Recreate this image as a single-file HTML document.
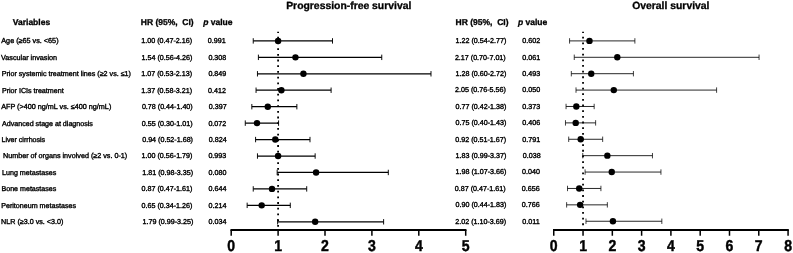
<!DOCTYPE html>
<html lang="en"><head><meta charset="utf-8"><title>Forest plot</title>
<style>
html,body{margin:0;padding:0;background:#fff;}
body{width:793px;height:253px;overflow:hidden;}
svg{display:block;font-family:"Liberation Sans",sans-serif;fill:#000;text-rendering:geometricPrecision;}
.r{font-size:7.15px;stroke:#000;stroke-width:0.36;}
.l{font-size:7.25px;stroke:#000;stroke-width:0.36;}
.h{font-size:8.5px;font-weight:bold;stroke:#000;stroke-width:0.3;}
.t{font-size:10.38px;font-weight:bold;stroke:#000;stroke-width:0.3;}
.a{font-size:15.8px;font-weight:bold;text-anchor:middle;stroke:#000;stroke-width:0.45;}
.ci{stroke:#000;fill:none;}
.cap{stroke:#000;fill:none;}
.ax{stroke:#000;stroke-width:1.9;fill:none;}
.tk{stroke:#000;stroke-width:1.5;fill:none;}
.dot{stroke:#000;stroke-width:1.8;stroke-dasharray:1.8 3.9;stroke-dashoffset:0.7;fill:none;}
</style></head><body>
<svg width="793" height="253" viewBox="0 0 793 253">
<rect x="0" y="0" width="793" height="253" fill="#fff"/>
<text class="t" x="286.2" y="8.55">Progression-free survival</text>
<text class="t" x="632.2" y="8.55">Overall survival</text>
<text class="h" x="12.8" y="25.3">Variables</text>
<text class="h" x="140.8" y="25.3" xml:space="preserve" style="white-space:pre">HR (95%,  CI)</text>
<text class="h" x="203.2" y="25.3"><tspan font-style="italic">p</tspan> value</text>
<text class="h" x="455.6" y="25.3" xml:space="preserve" style="white-space:pre">HR (95%,  CI)</text>
<text class="h" x="517.9" y="25.3"><tspan font-style="italic">p</tspan> value</text>
<text class="l" style="font-size:7.24px" x="1.3" y="43.30">Age (≥65 vs. &lt;65)</text>
<text class="r" x="141.30" y="43.30">1.00 (0.47-2.16)</text>
<text class="r" x="207.80" y="43.30">0.991</text>
<text class="r" x="455.50" y="43.30">1.22 (0.54-2.77)</text>
<text class="r" x="522.30" y="43.30">0.602</text>
<text class="l" style="font-size:7.22px" x="1.0" y="59.74">Vascular invasion</text>
<text class="r" x="141.55" y="59.74">1.54 (0.56-4.26)</text>
<text class="r" x="208.40" y="59.74">0.308</text>
<text class="r" x="454.90" y="59.70">2.17 (0.70-7.01)</text>
<text class="r" x="522.30" y="59.70">0.061</text>
<text class="l" style="font-size:7.155px" x="1.7" y="76.19">Prior systemic treatment lines (≥2 vs. ≤1)</text>
<text class="r" x="141.30" y="76.19">1.07 (0.53-2.13)</text>
<text class="r" x="208.40" y="76.19">0.849</text>
<text class="r" x="455.50" y="76.09">1.28 (0.60-2.72)</text>
<text class="r" x="522.30" y="76.09">0.493</text>
<text class="l" style="font-size:7.13px" x="1.9" y="92.64">Prior ICIs treatment</text>
<text class="r" x="141.30" y="92.64">1.37 (0.58-3.21)</text>
<text class="r" x="208.00" y="92.64">0.412</text>
<text class="r" x="455.00" y="92.49">2.05 (0.76-5.56)</text>
<text class="r" x="522.30" y="92.49">0.050</text>
<text class="l" style="font-size:7.22px" x="1.2" y="109.08">AFP (&gt;400 ng/mL vs. ≤400 ng/mL)</text>
<text class="r" x="141.90" y="109.08">0.78 (0.44-1.40)</text>
<text class="r" x="208.80" y="109.08">0.397</text>
<text class="r" x="455.50" y="108.88">0.77 (0.42-1.38)</text>
<text class="r" x="522.30" y="108.88">0.373</text>
<text class="l" style="font-size:7.11px" x="2.0" y="125.53">Advanced stage at diagnosis</text>
<text class="r" x="141.80" y="125.53">0.55 (0.30-1.01)</text>
<text class="r" x="208.40" y="125.53">0.072</text>
<text class="r" x="455.50" y="125.28">0.75 (0.40-1.43)</text>
<text class="r" x="522.30" y="125.28">0.406</text>
<text class="l" style="font-size:7.08px" x="1.5" y="141.97">Liver cirrhosis</text>
<text class="r" x="142.20" y="141.97">0.94 (0.52-1.68)</text>
<text class="r" x="208.80" y="141.97">0.824</text>
<text class="r" x="455.30" y="141.67">0.92 (0.51-1.67)</text>
<text class="r" x="522.30" y="141.67">0.791</text>
<text class="l" style="font-size:7.19px" x="3.0" y="158.42">Number of organs involved (≥2 vs. 0-1)</text>
<text class="r" x="141.60" y="158.42">1.00 (0.56-1.79)</text>
<text class="r" x="208.40" y="158.42">0.993</text>
<text class="r" x="455.50" y="158.06">1.83 (0.99-3.37)</text>
<text class="r" x="522.80" y="158.06">0.038</text>
<text class="l" style="font-size:7.15px" x="2.0" y="174.86">Lung metastases</text>
<text class="r" x="142.30" y="174.86">1.81 (0.98-3.35)</text>
<text class="r" x="208.60" y="174.86">0.080</text>
<text class="r" x="455.50" y="174.46">1.98 (1.07-3.66)</text>
<text class="r" x="522.10" y="174.46">0.040</text>
<text class="l" style="font-size:7.1px" x="1.5" y="191.31">Bone metastases</text>
<text class="r" x="141.55" y="191.31">0.87 (0.47-1.61)</text>
<text class="r" x="208.50" y="191.31">0.644</text>
<text class="r" x="454.80" y="190.86">0.87 (0.47-1.61)</text>
<text class="r" x="521.80" y="190.86">0.656</text>
<text class="l" style="font-size:7.13px" x="1.2" y="207.75">Peritoneum metastases</text>
<text class="r" x="141.55" y="207.75">0.65 (0.34-1.26)</text>
<text class="r" x="208.50" y="207.75">0.214</text>
<text class="r" x="455.50" y="207.25">0.90 (0.44-1.83)</text>
<text class="r" x="521.80" y="207.25">0.766</text>
<text class="l" style="font-size:7.16px" x="1.1" y="224.20">NLR (≥3.0 vs. &lt;3.0)</text>
<text class="r" x="142.55" y="224.20">1.79 (0.99-3.25)</text>
<text class="r" x="208.50" y="224.20">0.034</text>
<text class="r" x="455.30" y="223.65">2.02 (1.10-3.69)</text>
<text class="r" x="522.30" y="223.65">0.011</text>
<line class="dot" style="stroke-dasharray:1.8 3.900" x1="278.10" y1="31.8" x2="278.10" y2="230.00"/>
<path class="ci" stroke-width="1.25" d="M253.24 40.90H332.50"/>
<path class="cap" stroke-width="0.95" d="M253.24 38.20V43.60M332.50 38.20V43.60"/>
<circle cx="278.10" cy="40.90" r="3.2"/>
<path class="ci" stroke-width="1.25" d="M258.40 57.34H381.75"/>
<path class="cap" stroke-width="0.95" d="M258.40 54.64V60.05M381.75 54.64V60.05"/>
<circle cx="295.45" cy="57.34" r="3.2"/>
<path class="ci" stroke-width="1.25" d="M257.46 73.79H430.99"/>
<path class="cap" stroke-width="0.95" d="M257.46 71.09V76.49M430.99 71.09V76.49"/>
<circle cx="303.43" cy="73.79" r="3.2"/>
<path class="ci" stroke-width="1.25" d="M256.06 90.23H331.10"/>
<path class="cap" stroke-width="0.95" d="M256.06 87.53V92.94M331.10 87.53V92.94"/>
<circle cx="281.38" cy="90.23" r="3.2"/>
<path class="ci" stroke-width="1.25" d="M251.84 106.68H296.86"/>
<path class="cap" stroke-width="0.95" d="M251.84 103.98V109.38M296.86 103.98V109.38"/>
<circle cx="267.78" cy="106.68" r="3.2"/>
<path class="ci" stroke-width="1.25" d="M245.27 123.12H278.57"/>
<path class="cap" stroke-width="0.95" d="M245.27 120.42V125.83M278.57 120.42V125.83"/>
<circle cx="257.00" cy="123.12" r="3.2"/>
<path class="ci" stroke-width="1.25" d="M255.59 139.57H309.99"/>
<path class="cap" stroke-width="0.95" d="M255.59 136.87V142.27M309.99 136.87V142.27"/>
<circle cx="275.29" cy="139.57" r="3.2"/>
<path class="ci" stroke-width="1.25" d="M257.46 156.02H315.15"/>
<path class="cap" stroke-width="0.95" d="M257.46 153.32V158.72M315.15 153.32V158.72"/>
<circle cx="278.10" cy="156.02" r="3.2"/>
<path class="ci" stroke-width="1.25" d="M277.16 172.46H388.31"/>
<path class="cap" stroke-width="0.95" d="M277.16 169.76V175.16M388.31 169.76V175.16"/>
<circle cx="316.09" cy="172.46" r="3.2"/>
<path class="ci" stroke-width="1.25" d="M253.24 188.91H306.71"/>
<path class="cap" stroke-width="0.95" d="M253.24 186.21V191.60M306.71 186.21V191.60"/>
<circle cx="272.00" cy="188.91" r="3.2"/>
<path class="ci" stroke-width="1.25" d="M247.15 205.35H290.29"/>
<path class="cap" stroke-width="0.95" d="M247.15 202.65V208.05M290.29 202.65V208.05"/>
<circle cx="261.69" cy="205.35" r="3.2"/>
<path class="ci" stroke-width="1.25" d="M277.63 221.80H383.62"/>
<path class="cap" stroke-width="0.95" d="M277.63 219.10V224.50M383.62 219.10V224.50"/>
<circle cx="315.15" cy="221.80" r="3.2"/>
<path class="ax" d="M230.45 230.00H466.45"/>
<path class="tk" d="M231.20 230.00V235.80M278.10 230.00V235.80M325.00 230.00V235.80M371.90 230.00V235.80M418.80 230.00V235.80M465.70 230.00V235.80"/>
<text class="a" transform="translate(231.20 250.85) scale(0.89 1)">0</text>
<text class="a" transform="translate(278.10 250.85) scale(0.89 1)">1</text>
<text class="a" transform="translate(325.00 250.85) scale(0.89 1)">2</text>
<text class="a" transform="translate(371.90 250.85) scale(0.89 1)">3</text>
<text class="a" transform="translate(418.80 250.85) scale(0.89 1)">4</text>
<text class="a" transform="translate(465.70 250.85) scale(0.89 1)">5</text>
<line class="dot" style="stroke-dasharray:1.8 3.855" x1="583.04" y1="31.8" x2="583.04" y2="230.00"/>
<path class="ci" stroke-width="0.85" d="M569.57 40.90H634.88"/>
<path class="cap" stroke-width="0.75" d="M569.57 38.20V43.60M634.88 38.20V43.60"/>
<circle cx="589.48" cy="40.90" r="3.2"/>
<path class="ci" stroke-width="0.85" d="M574.25 57.30H759.07"/>
<path class="cap" stroke-width="0.75" d="M574.25 54.59V60.00M759.07 54.59V60.00"/>
<circle cx="617.31" cy="57.30" r="3.2"/>
<path class="ci" stroke-width="0.85" d="M571.32 73.69H633.42"/>
<path class="cap" stroke-width="0.75" d="M571.32 70.99V76.39M633.42 70.99V76.39"/>
<circle cx="591.24" cy="73.69" r="3.2"/>
<path class="ci" stroke-width="0.85" d="M576.01 90.09H716.60"/>
<path class="cap" stroke-width="0.75" d="M576.01 87.39V92.79M716.60 87.39V92.79"/>
<circle cx="613.79" cy="90.09" r="3.2"/>
<path class="ci" stroke-width="0.85" d="M566.05 106.48H594.17"/>
<path class="cap" stroke-width="0.75" d="M566.05 103.78V109.18M594.17 103.78V109.18"/>
<circle cx="576.30" cy="106.48" r="3.2"/>
<path class="ci" stroke-width="0.85" d="M565.47 122.88H595.63"/>
<path class="cap" stroke-width="0.75" d="M565.47 120.17V125.58M595.63 120.17V125.58"/>
<circle cx="575.72" cy="122.88" r="3.2"/>
<path class="ci" stroke-width="0.85" d="M568.69 139.27H602.66"/>
<path class="cap" stroke-width="0.75" d="M568.69 136.57V141.97M602.66 136.57V141.97"/>
<circle cx="580.70" cy="139.27" r="3.2"/>
<path class="ci" stroke-width="0.85" d="M582.75 155.66H652.46"/>
<path class="cap" stroke-width="0.75" d="M582.75 152.97V158.36M652.46 152.97V158.36"/>
<circle cx="607.35" cy="155.66" r="3.2"/>
<path class="ci" stroke-width="0.85" d="M585.09 172.06H660.95"/>
<path class="cap" stroke-width="0.75" d="M585.09 169.36V174.76M660.95 169.36V174.76"/>
<circle cx="611.74" cy="172.06" r="3.2"/>
<path class="ci" stroke-width="0.85" d="M567.52 188.46H600.91"/>
<path class="cap" stroke-width="0.75" d="M567.52 185.76V191.16M600.91 185.76V191.16"/>
<circle cx="579.23" cy="188.46" r="3.2"/>
<path class="ci" stroke-width="0.85" d="M566.64 204.85H607.35"/>
<path class="cap" stroke-width="0.75" d="M566.64 202.15V207.55M607.35 202.15V207.55"/>
<circle cx="580.11" cy="204.85" r="3.2"/>
<path class="ci" stroke-width="0.85" d="M585.97 221.25H661.83"/>
<path class="cap" stroke-width="0.75" d="M585.97 218.55V223.94M661.83 218.55V223.94"/>
<circle cx="612.92" cy="221.25" r="3.2"/>
<path class="ax" d="M553.00 230.00H788.82"/>
<path class="tk" d="M553.75 230.00V235.80M583.04 230.00V235.80M612.33 230.00V235.80M641.62 230.00V235.80M670.91 230.00V235.80M700.20 230.00V235.80M729.49 230.00V235.80M758.78 230.00V235.80M788.07 230.00V235.80"/>
<text class="a" transform="translate(553.75 250.85) scale(0.89 1)">0</text>
<text class="a" transform="translate(583.04 250.85) scale(0.89 1)">1</text>
<text class="a" transform="translate(612.33 250.85) scale(0.89 1)">2</text>
<text class="a" transform="translate(641.62 250.85) scale(0.89 1)">3</text>
<text class="a" transform="translate(670.91 250.85) scale(0.89 1)">4</text>
<text class="a" transform="translate(700.20 250.85) scale(0.89 1)">5</text>
<text class="a" transform="translate(729.49 250.85) scale(0.89 1)">6</text>
<text class="a" transform="translate(758.78 250.85) scale(0.89 1)">7</text>
<text class="a" transform="translate(788.07 250.85) scale(0.89 1)">8</text>
</svg>
</body></html>
